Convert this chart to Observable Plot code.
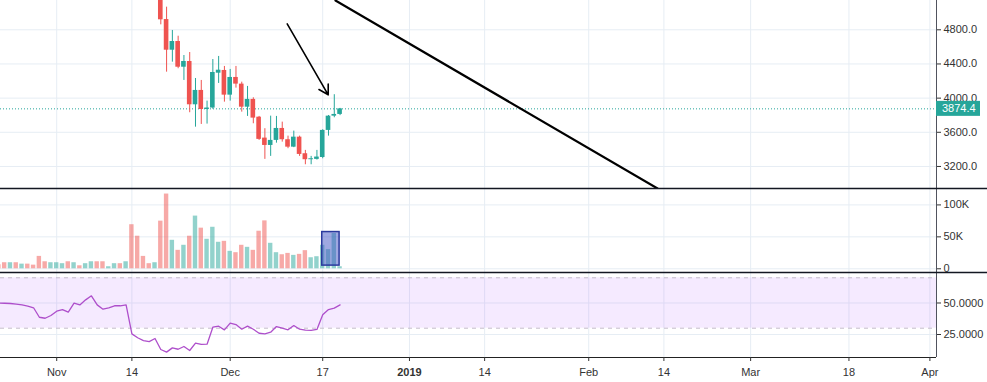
<!DOCTYPE html>
<html><head><meta charset="utf-8">
<script src="https://cdn.jsdelivr.net/npm/d3@7"></script>
<script src="https://cdn.jsdelivr.net/npm/@observablehq/plot@0.6"></script>
<style>
html,body{margin:0;padding:0;background:#fff;}
#chart{position:relative;width:987px;height:382px;overflow:hidden;background:#fff;}
#chart svg{position:absolute;left:0;overflow:visible;}
</style></head><body><div id="chart"></div>
<script>
// ---------- data ----------
const firstDay = "2018-10-22";           // first daily bar (volume / RSI)
const volumeK = [6.3,9.5,9.5,9.5,7.3,7.3,5.7,19.4,11,9.5,
  9.5,8,11,9.5,4.7,8,11,11,11,3.2,
  8,8,11,69,51,19.4,8,9.5,74.6,117,
  44.6,28.9,36.8,51,82.5,63.6,46.2,65,41.5,43,
  27.3,25.2,36.8,33.6,28.9,58.8,75,39.9,25.2,22,
  24.1,21,22.6,28.4,17.3,18.9,36.8,30,55.2,3.2];
const volumeUp = [0,0,1,0,1,0,0,0,0,1,
  1,1,0,1,0,1,1,0,0,1,
  1,0,1,0,0,0,0,1,0,0,
  1,0,1,0,1,0,1,1,1,0,
  1,0,0,1,0,0,0,1,1,0,
  0,1,0,0,1,1,1,1,1,1];
const rsiValues = [49.9,49.8,49.6,49.1,48.5,47.5,46.2,38.7,37.9,40.1,
  43.5,44.8,42.7,49.9,48.5,52.5,55.7,48.5,45.1,46.2,
  47.8,47.8,48.5,25.5,22.4,20.2,19.4,21.8,13.1,11.0,
  14.4,13.3,15.5,12.3,18.1,17.1,17.3,30.8,31.6,28.7,
  34.0,32.9,29.2,31.6,29.2,26.0,25.5,26.8,31.3,30.0,
  28.7,32.1,29.2,28.4,28.2,29.0,40.6,44.8,45.9,48.5];

const candleStart = "2018-11-19";        // first candle inside the price pane
const openP  = [5560,4920,4561,4663,4362,4429,3922,4090,3867,3884,4292,4324,4035,4242,4164,3894,3985,3777,3532,3446,3505,3645,3513,3426,3543,3349,3279,3283,3305,3622,3789,3809];
const highP  = [5600,5065,4792,4725,4499,4534,4230,4207,3965,4452,4488,4371,4336,4371,4187,4137,4004,3786,3642,3789,3786,3719,3555,3614,3555,3388,3318,3388,3630,3797,4040,3880];
const lowP   = [4858,4304,4421,4344,4207,3829,3660,3692,3696,3870,4172,3953,3965,4117,3836,3786,3700,3505,3283,3318,3473,3485,3408,3420,3318,3220,3220,3275,3290,3555,3770,3795];
const closeP = [4917,4561,4663,4362,4429,3922,4090,3867,3884,4300,4327,4035,4242,4164,3894,3985,3766,3517,3446,3505,3645,3513,3426,3543,3341,3279,3290,3310,3622,3789,3809,3874.4];

const xTickDates  = ["2018-11-01","2018-11-14","2018-12-01","2018-12-17","2019-01-01","2019-01-14","2019-02-01","2019-02-14","2019-03-01","2019-03-18","2019-04-01"];
const xTickLabels = ["Nov","14","Dec","17","2019","14","Feb","14","Mar","18","Apr"];
const boldLabel = "2019";
const priceTicks = [3200,3600,4000,4400,4800];
const volumeTicks = [0,50000,100000];
const rsiTicks = [25,50];
const rsiBand = [30,70];

const trendDates = ["2018-12-19T05:00:00Z","2019-02-12T21:36:00Z"];
const trendPrices = [5143,2942];
const arrowDates = ["2018-12-10T20:38:00Z","2018-12-17T22:50:00Z"];
const arrowPrices = [4870,4039];
const boxDates = ["2018-12-16T22:00:00Z","2018-12-19T22:00:00Z"];
const boxVolumes = [5000,57500];

// ---------- styling ----------
const W = 987, MR = 51;
const up = "#26a69a", down = "#ef5350";
const gridColor = "#e6edf4", axisColor = "#50535e", textColor = "#333";
const font = "'Liberation Sans', Arial, sans-serif";
const xDomain = [new Date("2018-10-22T06:43:00Z"), new Date("2019-04-02T03:22:00Z")];
const DAY = 864e5;

// ---------- tables ----------
const day0 = new Date(firstDay + "T00:00:00Z");
const daily = volumeK.map((v, i) => ({
  date: d3.utcDay.offset(day0, i),
  vol: v * 1000,
  color: volumeUp[i] ? up : down,
  rsi: rsiValues[i]
}));
const c0 = new Date(candleStart + "T00:00:00Z");
const candles = openP.map((o, i) => ({
  date: d3.utcDay.offset(c0, i),
  o, h: highP[i], l: lowP[i], c: closeP[i],
  color: closeP[i] >= o ? up : down
}));
const lastClose = closeP[closeP.length - 1];
const trend = trendDates.map((d, i) => ({date: new Date(d), price: trendPrices[i]}));
const arrow = [{x1: new Date(arrowDates[0]), y1: arrowPrices[0], x2: new Date(arrowDates[1]), y2: arrowPrices[1]}];
const box = [{x1: new Date(boxDates[0]), x2: new Date(boxDates[1]), y1: boxVolumes[0], y2: boxVolumes[1]}];
const xTicks = xTickDates.map(d => new Date(d + "T00:00:00Z"));
const labelOf = d => xTickLabels[xTicks.findIndex(t => +t === +d)];
const normalTicks = xTicks.filter(d => labelOf(d) !== boldLabel);
const boldTicks = xTicks.filter(d => labelOf(d) === boldLabel);

// ---------- helper marks ----------
function separator(index, scales, values, dims) {
  const g = d3.create("svg:g");
  g.append("line").attr("x1", 0).attr("x2", dims.width).attr("y1", 0.5).attr("y2", 0.5)
    .attr("stroke", "#131722").attr("stroke-width", 1.3);
  return g.node();
}
function priceTag(index, scales, values, dims) {
  const g = d3.create("svg:g");
  const y = scales.y(lastClose);
  const x0 = dims.width - dims.marginRight;
  g.append("rect").attr("x", x0).attr("y", y - 7.5).attr("width", 44).attr("height", 15).attr("fill", up);
  g.append("text").attr("x", x0 + 6).attr("y", y).attr("dy", "0.35em").attr("fill", "#fff")
    .attr("text-anchor", "start")
    .attr("font-size", 11).attr("font-family", font).text(d3.format(".1f")(lastClose));
  return g.node();
}
const common = {
  width: W, marginLeft: 0, marginRight: MR,
  x: {type: "utc", domain: xDomain, axis: null}
};
const styleOf = bg => ({fontFamily: font, fontSize: "11px", color: textColor, background: bg, overflow: "visible"});
const gridXMark = () => Plot.gridX(xTicks, {stroke: gridColor, strokeOpacity: 1});
const rightLine = () => Plot.ruleX([xDomain[1]], {stroke: axisColor});
const half = f => d => new Date(+d.date + f * DAY);

// ---------- price pane ----------
const p1 = Plot.plot({
  ...common, height: 188, marginTop: 0, marginBottom: 0,
  style: styleOf("white"),
  y: {domain: [2942, 5143], axis: null},
  marks: [
    gridXMark(),
    Plot.gridY(priceTicks, {stroke: gridColor, strokeOpacity: 1}),
    Plot.ruleY([lastClose], {stroke: up, strokeDasharray: "1,2"}),
    Plot.ruleX(candles, {x: "date", y1: "l", y2: "h", stroke: "color", clip: true}),
    Plot.rect(candles, {x1: half(-0.4), x2: half(0.4), y1: "o", y2: "c", fill: "color", clip: true}),
    Plot.line(trend, {x: "date", y: "price", stroke: "#000", strokeWidth: 2.2, clip: true}),
    Plot.arrow(arrow, {x1: "x1", y1: "y1", x2: "x2", y2: "y2", stroke: "#000", strokeWidth: 1.6, headLength: 10}),
    rightLine(),
    Plot.axisY(priceTicks, {anchor: "right", tickFormat: d3.format(".1f"), tickSize: 4, tickPadding: 3, label: null, fontSize: 11}),
    priceTag
  ]
});

// ---------- volume pane ----------
const p2 = Plot.plot({
  ...common, height: 84, marginTop: 0, marginBottom: 0,
  style: styleOf("transparent"),
  y: {domain: [-5800, 125700], axis: null},
  marks: [
    gridXMark(),
    Plot.gridY(volumeTicks, {stroke: gridColor, strokeOpacity: 1}),
    Plot.rect(daily, {x1: half(-0.38), x2: half(0.38), y1: 0, y2: "vol", fill: "color", fillOpacity: 0.5, clip: true}),
    Plot.rect(box, {x1: "x1", x2: "x2", y1: "y1", y2: "y2", fill: "#3f51c4", fillOpacity: 0.5, stroke: "#2b3a9e", strokeWidth: 1.5}),
    rightLine(),
    Plot.axisY(volumeTicks, {anchor: "right", tickFormat: d => d === 0 ? "0" : d / 1000 + "K", tickSize: 4, tickPadding: 3, label: null, fontSize: 11}),
    separator
  ]
});

// ---------- RSI pane ----------
const p3 = Plot.plot({
  ...common, height: 110, marginTop: 0, marginBottom: 25,
  style: styleOf("transparent"),
  y: {domain: [6.75, 74.2], axis: null},
  marks: [
    gridXMark(),
    Plot.gridY(rsiTicks, {stroke: gridColor, strokeOpacity: 1}),
    Plot.rect([rsiBand], {x1: () => xDomain[0], x2: () => xDomain[1], y1: d => d[0], y2: d => d[1], fill: "#9b30ff", fillOpacity: 0.1}),
    Plot.ruleY(rsiBand, {stroke: "#c4bccb", strokeDasharray: "4,4"}),
    Plot.line(daily, {x: "date", y: "rsi", stroke: "#ae4fcb", strokeWidth: 1.3, clip: true}),
    Plot.ruleY([6.75], {stroke: "#222"}),
    rightLine(),
    Plot.axisY(rsiTicks, {anchor: "right", tickFormat: d3.format(".4f"), tickSize: 4, tickPadding: 3, label: null, fontSize: 11}),
    Plot.axisX(normalTicks, {anchor: "bottom", tickFormat: labelOf, tickSize: 4, tickPadding: 7, label: null, fontSize: 11}),
    Plot.axisX(boldTicks, {anchor: "bottom", tickFormat: labelOf, tickSize: 4, tickPadding: 7, label: null, fontSize: 11, fontWeight: "bold"}),
    separator
  ]
});

const host = document.getElementById("chart");
[[p1, 0], [p2, 188], [p3, 272]].forEach(([el, top]) => {
  el.style.top = top + "px";
  el.style.maxWidth = "none";
  host.appendChild(el);
});
</script></body></html>
